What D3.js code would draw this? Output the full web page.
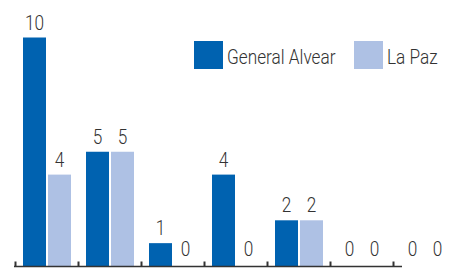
<!DOCTYPE html>
<html>
<head>
<meta charset="utf-8">
<script src="https://cdn.jsdelivr.net/npm/d3@7"></script>
<style>
  body { margin: 0; background: #fff; }
  text { font-family: "Roboto", "Liberation Sans", sans-serif; fill: #333; font-size: 21px; font-weight: 300; }
</style>
</head>
<body>
<svg id="chart" width="449" height="268"></svg>
<script>
// data
const groups = ["g1", "g2", "g3", "g4", "g5", "g6", "g7"];
const seriesNames = ["General Alvear", "La Paz"];
const generalAlvear = [10, 5, 1, 4, 2, 0, 0];
const laPaz = [4, 5, 0, 0, 2, 0, 0];
const colors = ["#0062b0", "#aec1e4"];

const svg = d3.select("#chart");
const squeeze = 0.82; // the original font is a narrow one

// scales
const x0 = d3.scaleBand()
    .domain(groups)
    .range([15, 456]);

const x1 = d3.scaleBand()
    .domain(seriesNames)
    .range([8, 56])
    .paddingInner(0.08);

const y = d3.scaleLinear()
    .domain([0, 10])
    .range([266, 37.5]);

const rows = groups.map((g, i) => ({
    group: g,
    values: [
        { name: seriesNames[0], value: generalAlvear[i] },
        { name: seriesNames[1], value: laPaz[i] }
    ]
}));

// bars
const groupSel = svg.selectAll(".group")
    .data(rows)
    .enter().append("g")
    .attr("class", "group")
    .attr("transform", d => `translate(${x0(d.group)},0)`);

groupSel.selectAll("rect")
    .data(d => d.values)
    .enter().append("rect")
    .attr("x", d => x1(d.name))
    .attr("y", d => y(d.value))
    .attr("width", x1.bandwidth())
    .attr("height", d => y(0) - y(d.value))
    .attr("fill", (d, i) => colors[i]);

// value labels
groupSel.selectAll("text")
    .data(d => d.values)
    .enter().append("text")
    .attr("transform", d => {
        const lx = x1(d.name) + x1.bandwidth() / 2;
        const ly = y(d.value) - (d.value === 0 ? 10 : 8);
        return `translate(${lx},${ly}) scale(${squeeze},1)`;
    })
    .attr("text-anchor", "middle")
    .text(d => d.value);

// axis: ticks at group boundaries pointing up
const xi = d3.scaleLinear().domain([0, groups.length]).range([15, 456]);
const axis = svg.append("g")
    .attr("transform", "translate(0,266.5)")
    .call(d3.axisBottom(xi)
        .tickValues(d3.range(groups.length))
        .tickSize(-5)
        .tickFormat(""));
axis.select(".domain").remove();
axis.selectAll(".tick line").attr("stroke", "#333").attr("stroke-width", 2);

svg.append("line")
    .attr("x1", 14).attr("x2", 402)
    .attr("y1", 266.5).attr("y2", 266.5)
    .attr("stroke", "#333")
    .attr("stroke-width", 1.5);

// legend
const legendX = [194, 354];
const legend = svg.selectAll(".legend")
    .data(seriesNames)
    .enter().append("g")
    .attr("class", "legend")
    .attr("transform", (d, i) => `translate(${legendX[i]},41)`);

legend.append("rect")
    .attr("width", 29)
    .attr("height", 28)
    .attr("fill", (d, i) => colors[i]);

legend.append("text")
    .attr("transform", `translate(33,23) scale(${squeeze},1)`)
    .text(d => d);
</script>
</body>
</html>
